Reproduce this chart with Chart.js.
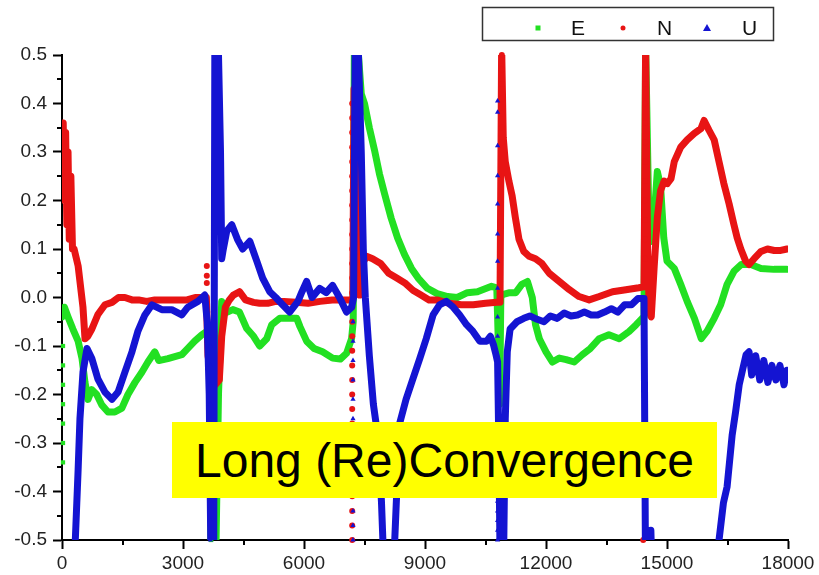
<!DOCTYPE html>
<html>
<head>
<meta charset="utf-8">
<script src="https://cdn.jsdelivr.net/npm/chart.js@4.4.0/dist/chart.umd.min.js"></script>
<style>
  body { margin: 0; background: #fff; }
  #wrap { position: relative; width: 819px; height: 575px; }
  #note {
    position: absolute; left: 172px; top: 422px; width: 545px; height: 76px;
    background: #ffff00; color: #000;
    font-family: "Liberation Sans", Arial, sans-serif; font-size: 48px;
    display: flex; align-items: center; justify-content: center;
  }
</style>
</head>
<body>
<div id="wrap">
  <canvas id="enuChart"></canvas>
  <div id="note">Long (Re)Convergence</div>
</div>
<script>
// series, [time, error]
var eMain = [[0,-0.04],[60,-0.02],[150,-0.04],[270,-0.065],[400,-0.09],[495,-0.125],[570,-0.175],[645,-0.21],[740,-0.19],[860,-0.2],[990,-0.222],[1140,-0.236],[1310,-0.236],[1485,-0.228],[1635,-0.2],[1810,-0.175],[1980,-0.154],[2130,-0.133],[2300,-0.112],[2400,-0.13],[2625,-0.126],[2970,-0.118],[3120,-0.105],[3290,-0.09],[3465,-0.077],[3590,-0.07],[3650,-0.08],[3700,-0.6],[3800,-0.6],[3880,-0.2],[3960,-0.008],[4100,-0.03],[4235,-0.025],[4400,-0.03],[4580,-0.064],[4750,-0.08],[4900,-0.1],[5075,-0.085],[5200,-0.056],[5400,-0.043],[5600,-0.043],[5820,-0.043],[5900,-0.06],[6065,-0.09],[6250,-0.105],[6460,-0.112],[6710,-0.125],[6900,-0.127],[7055,-0.115],[7180,-0.085],[7220,-0.05],[7250,0.55],[7350,0.5],[7420,0.42],[7500,0.4],[7620,0.35],[7750,0.303],[7870,0.255],[8000,0.213],[8160,0.164],[8320,0.123],[8490,0.089],[8665,0.06],[8830,0.04],[9060,0.019],[9300,0.008],[9560,0.002],[9800,0.0],[10050,0.01],[10300,0.012],[10650,0.023],[10780,0.02],[10820,-0.1],[10850,-0.22],[10880,0.0],[10920,0.006],[11100,0.01],[11250,0.01],[11400,0.027],[11540,0.033],[11660,0.0],[11740,-0.056],[11835,-0.085],[12000,-0.112],[12160,-0.133],[12330,-0.125],[12500,-0.128],[12700,-0.133],[12900,-0.118],[13100,-0.105],[13320,-0.085],[13560,-0.077],[13815,-0.085],[14060,-0.07],[14235,-0.056],[14385,-0.043],[14430,-0.04],[14470,0.52],[14560,0.12],[14610,0.116],[14680,0.164],[14760,0.26],[14840,0.23],[14920,0.123],[15000,0.075],[15180,0.06],[15340,0.027],[15500,-0.008],[15680,-0.043],[15850,-0.085],[15990,-0.07],[16170,-0.043],[16330,-0.015],[16490,0.027],[16660,0.054],[16840,0.068],[17080,0.068],[17330,0.06],[17650,0.058],[17975,0.058]];

var nMain = [[0,0.3],[30,0.36],[60,0.2],[90,0.34],[120,0.15],[150,0.3],[180,0.12],[220,0.25],[260,0.1],[300,0.1],[400,0.065],[520,-0.02],[570,-0.085],[640,-0.08],[740,-0.065],[890,-0.035],[1065,-0.015],[1240,-0.01],[1400,0.0],[1560,0.0],[1735,-0.005],[1900,-0.005],[2100,-0.008],[2300,-0.005],[2500,-0.005],[2700,-0.005],[2900,-0.005],[3100,-0.005],[3300,0.0],[3500,0.0],[3580,0.0],[3620,-0.12],[3700,-0.16],[3800,-0.18],[3900,-0.17],[3960,-0.08],[4050,-0.02],[4150,-0.005],[4250,0.005],[4400,0.012],[4550,-0.005],[4750,-0.01],[4900,-0.012],[5100,-0.012],[5300,-0.008],[5500,-0.008],[5800,-0.01],[6100,-0.012],[6400,-0.008],[6700,-0.005],[7000,-0.005],[7150,-0.005],[7210,0.0],[7240,0.43],[7300,0.3],[7340,0.1],[7380,0.005],[7450,0.07],[7550,0.085],[7700,0.08],[7900,0.07],[8100,0.05],[8300,0.04],[8500,0.03],[8700,0.015],[8900,0.005],[9100,-0.005],[9300,-0.005],[9600,-0.012],[9900,-0.015],[10200,-0.015],[10500,-0.012],[10780,-0.01],[10860,-0.01],[10900,0.52],[10940,0.33],[10990,0.28],[11080,0.24],[11160,0.21],[11240,0.165],[11330,0.12],[11450,0.095],[11580,0.085],[11740,0.08],[11900,0.07],[12080,0.05],[12330,0.033],[12580,0.016],[12820,0.002],[13070,-0.005],[13320,0.002],[13650,0.012],[13980,0.016],[14300,0.02],[14430,0.022],[14470,0.52],[14520,0.1],[14560,-0.03],[14610,-0.04],[14680,0.06],[14760,0.165],[14840,0.22],[14930,0.24],[15010,0.235],[15100,0.245],[15180,0.28],[15340,0.31],[15500,0.325],[15670,0.338],[15840,0.348],[15920,0.365],[16040,0.345],[16170,0.325],[16290,0.28],[16410,0.235],[16540,0.193],[16660,0.15],[16740,0.123],[16830,0.1],[16950,0.075],[17035,0.068],[17160,0.08],[17330,0.095],[17490,0.1],[17660,0.097],[17820,0.097],[17975,0.1]];

var uMain = [[0,-0.6],[300,-0.6],[330,-0.5],[400,-0.355],[445,-0.25],[520,-0.154],[620,-0.105],[740,-0.126],[890,-0.168],[1065,-0.195],[1240,-0.21],[1390,-0.195],[1560,-0.154],[1735,-0.112],[1880,-0.07],[2055,-0.036],[2230,-0.015],[2475,-0.025],[2720,-0.025],[2970,-0.036],[3120,-0.02],[3370,-0.008],[3540,0.005],[3600,-0.05],[3650,-0.2],[3700,-0.6],[3760,-0.6],[3790,0.55],[3880,0.5],[3930,0.3],[3960,0.08],[4000,0.1],[4085,0.137],[4210,0.15],[4350,0.12],[4480,0.1],[4655,0.116],[4830,0.075],[4975,0.04],[5150,0.012],[5300,0.0],[5470,-0.015],[5645,-0.03],[5850,-0.008],[5950,0.012],[6065,0.033],[6200,0.0],[6390,0.019],[6550,0.01],[6710,0.025],[6880,0.0],[7055,-0.03],[7180,-0.02],[7230,0.0],[7270,0.55],[7350,0.5],[7420,0.3],[7470,0.1],[7520,0.0],[7620,-0.12],[7720,-0.22],[7820,-0.28],[7920,-0.42],[8000,-0.6],[8200,-0.6],[8300,-0.4],[8370,-0.26],[8530,-0.21],[8700,-0.168],[8870,-0.126],[9030,-0.085],[9200,-0.036],[9360,-0.015],[9530,-0.008],[9700,-0.02],[9860,-0.036],[10030,-0.056],[10190,-0.07],[10360,-0.09],[10530,-0.09],[10620,-0.08],[10700,-0.098],[10760,-0.118],[10800,-0.133],[10830,-0.3],[10870,-0.6],[10940,-0.6],[10990,-0.25],[11040,-0.112],[11110,-0.065],[11280,-0.05],[11450,-0.043],[11600,-0.038],[11780,-0.045],[11950,-0.05],[12110,-0.038],[12280,-0.043],[12450,-0.032],[12620,-0.038],[12780,-0.036],[12950,-0.03],[13120,-0.036],[13280,-0.036],[13450,-0.03],[13620,-0.023],[13780,-0.03],[13950,-0.015],[14120,-0.015],[14280,-0.002],[14430,-0.002],[14470,-0.6],[14560,-0.6],[14600,-0.48],[14640,-0.6],[16200,-0.6],[16290,-0.5],[16400,-0.423],[16490,-0.39],[16615,-0.284],[16700,-0.236],[16790,-0.18],[16880,-0.147],[16960,-0.118],[17035,-0.112],[17100,-0.16],[17200,-0.12],[17300,-0.17],[17400,-0.13],[17500,-0.175],[17600,-0.14],[17700,-0.17],[17800,-0.14],[17900,-0.18],[17975,-0.15]];

// loose markers in the jumps
var eSpikes = [[25,-0.10],[25,-0.14],[25,-0.18],[25,-0.22],[25,-0.26],[25,-0.30],[25,-0.34],[3690,-0.42],[3700,-0.45],[3690,-0.48],[3700,-0.50],[10840,-0.16],[10840,-0.20],[14440,0.15],[14440,-0.125]];
var nSpikes = [[3590,0.065],[3590,0.045],[3590,0.03],[3600,-0.03],[3600,-0.06],[3600,-0.09],[7195,0.40],[7195,0.37],[7195,0.34],[7195,0.31],[7195,0.28],[7195,0.25],[7195,0.22],[7195,0.19],[7195,0.16],[7195,0.13],[7195,0.10],[7195,0.07],[7195,0.04],[7195,0.01],[7195,-0.02],[7195,-0.05],[7195,-0.08],[7195,-0.11],[7195,-0.14],[7195,-0.17],[7195,-0.20],[7195,-0.23],[7195,-0.26],[7195,-0.29],[7195,-0.32],[7195,-0.35],[7195,-0.38],[7195,-0.41],[7195,-0.44],[7195,-0.47],[7195,-0.50],[10905,0.50],[10905,0.47],[10905,0.44],[10905,0.41],[10905,0.38],[10905,0.35],[10905,0.32],[14455,0.48],[14455,0.44],[14455,0.40],[14455,0.36],[14455,0.32],[14455,0.28],[14455,0.24],[14455,0.20],[14455,0.16],[14455,0.12],[14455,0.08],[14410,-0.50]];
var uSpikes = [[3680,-0.10],[3680,-0.14],[3680,-0.18],[3680,-0.22],[3680,-0.26],[3680,-0.30],[3680,-0.34],[3680,-0.38],[3680,-0.42],[3680,-0.46],[3680,-0.50],[7215,-0.05],[7215,-0.09],[7215,-0.13],[7215,-0.17],[7215,-0.21],[7215,-0.25],[7215,-0.29],[7215,-0.33],[7215,-0.37],[7215,-0.41],[7215,-0.44],[7215,-0.47],[7215,-0.50],[10800,0.405],[10800,0.382],[10800,0.313],[10800,0.251],[10800,0.193],[10800,0.131],[10800,0.075],[10800,0.019],[10800,-0.04],[10800,-0.08],[10800,-0.12],[10810,-0.16],[10810,-0.20],[10810,-0.23],[10800,-0.42],[10800,-0.44],[10800,-0.46],[10800,-0.48],[10800,-0.50]];

var seriesNames = ["E", "N", "U"];
var seriesColors = ["#22e022", "#e81414", "#1414d2"];
var seriesMarks = ["rect", "circle", "triangle"];

var FONT = "'Liberation Sans', Arial, sans-serif";

function mainSet(i, data, order) {
    return {
        label: seriesNames[i], data: data, showLine: true,
        borderColor: seriesColors[i], backgroundColor: seriesColors[i],
        borderWidth: 7, borderJoinStyle: "round", borderCapStyle: "round",
        pointRadius: 0, clip: 0, order: order
    };
}
function spikeSet(i, data, order) {
    return {
        label: seriesNames[i] + " jump", data: data, showLine: false,
        borderColor: seriesColors[i], backgroundColor: seriesColors[i],
        pointStyle: seriesMarks[i], pointRadius: 3, borderWidth: 0, clip: 3, order: order
    };
}

// minor ticks + boxed legend
var extras = {
    id: "extras",
    afterDraw: function(chart) {
        var c = chart.ctx, a = chart.chartArea, xs = chart.scales.x, ys = chart.scales.y;
        c.save();
        c.strokeStyle = "#000";
        c.lineWidth = 2;
        c.beginPath();
        for (var v = -0.45; v < 0.5; v += 0.1) {
            var py = Math.round(ys.getPixelForValue(v));
            c.moveTo(a.left - 5, py); c.lineTo(a.left, py);
        }
        for (var t = 1500; t < 18000; t += 3000) {
            var px = Math.round(xs.getPixelForValue(t));
            c.moveTo(px, a.bottom); c.lineTo(px, a.bottom + 5);
        }
        c.stroke();

        c.fillStyle = "#fff";
        c.fillRect(482, 7, 292, 34);
        c.strokeStyle = "#333";
        c.lineWidth = 1.5;
        c.strokeRect(482.5, 7.5, 291, 33);
        var mx = [538, 623, 707], tx = [571, 657, 742];
        c.font = "21px " + FONT;
        c.textBaseline = "middle";
        for (var i = 0; i < 3; i++) {
            c.fillStyle = seriesColors[i];
            if (i === 0) c.fillRect(mx[i] - 2.5, 25.5, 5, 5);
            if (i === 1) { c.beginPath(); c.arc(mx[i], 28, 2.5, 0, Math.PI * 2); c.fill(); }
            if (i === 2) { c.beginPath(); c.moveTo(mx[i], 24); c.lineTo(mx[i] + 4, 31); c.lineTo(mx[i] - 4, 31); c.closePath(); c.fill(); }
            c.fillStyle = "#111";
            c.fillText(seriesNames[i], tx[i], 29);
        }
        c.restore();
    }
};

var ctx = document.getElementById("enuChart").getContext("2d");
var enuChart = new Chart(ctx, {
    type: "scatter",
    data: {
        datasets: [
            spikeSet(2, uSpikes, 0), mainSet(2, uMain, 1),
            spikeSet(1, nSpikes, 2), mainSet(1, nMain, 3),
            spikeSet(0, eSpikes, 4), mainSet(0, eMain, 5)
        ]
    },
    options: {
        responsive: true,
        maintainAspectRatio: false,
        animation: false,
        devicePixelRatio: 1,
        layout: { padding: { top: 55, right: 31, left: 0, bottom: 0 } },
        plugins: { legend: { display: false }, tooltip: { enabled: false } },
        scales: {
            x: {
                type: "linear", min: 0, max: 18000,
                afterFit: function(s) { s.height = 35; },
                ticks: {
                    stepSize: 3000, padding: 3, color: "#222", font: { family: FONT, size: 19 },
                    callback: function(v) { return String(v); }
                },
                grid: { drawOnChartArea: false, tickLength: 9, tickColor: "#000", tickWidth: 2 },
                border: { display: true, color: "#000", width: 2 }
            },
            y: {
                type: "linear", min: -0.5, max: 0.5,
                afterFit: function(s) { s.width = 62; },
                ticks: {
                    stepSize: 0.1, padding: 6, color: "#222", font: { family: FONT, size: 19 },
                    callback: function(v) { return v.toFixed(1); }
                },
                grid: { drawOnChartArea: false, tickLength: 9, tickColor: "#000", tickWidth: 2 },
                border: { display: true, color: "#000", width: 2 }
            }
        }
    },
    plugins: [extras]
});
</script>
</body>
</html>
